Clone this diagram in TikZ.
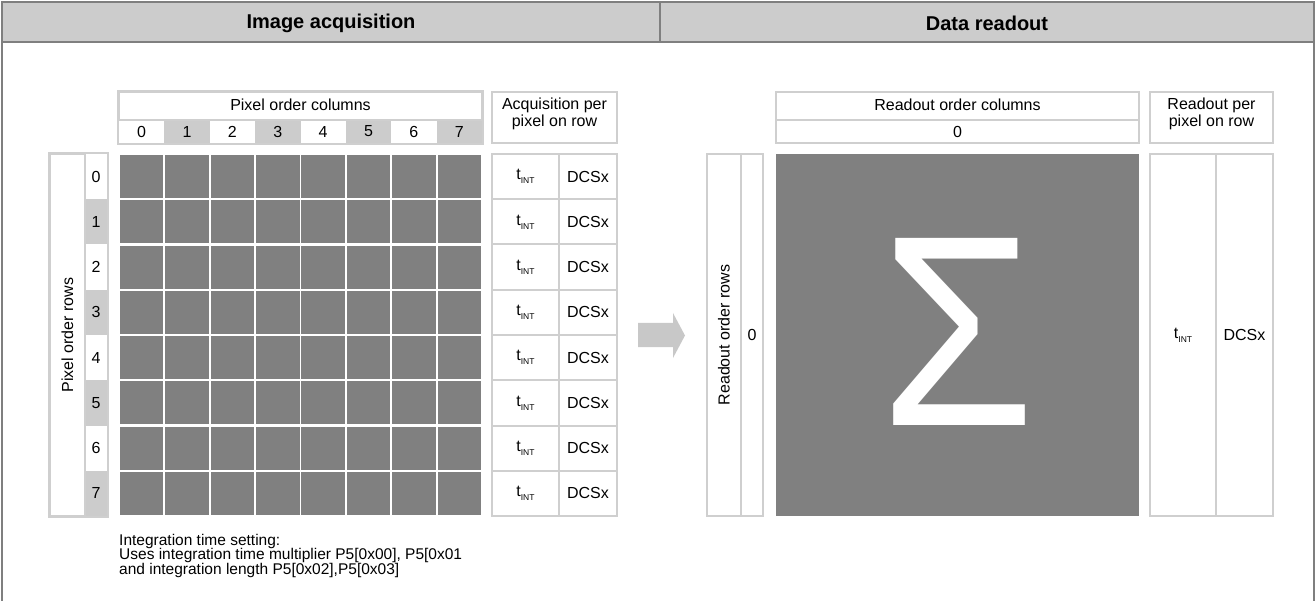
\documentclass[tikz,border=0pt]{standalone}
\usepackage{fontspec}
\setmainfont{Liberation Sans}
\usetikzlibrary{positioning}
\definecolor{framegray}{HTML}{7F7F7F}
\definecolor{headgray}{HTML}{CCCCCC}
\definecolor{linegray}{HTML}{CFCFCF}
\definecolor{cellgray}{HTML}{808080}
\definecolor{arrowgray}{HTML}{C8C8C8}
\newcommand{\tInt}{t\raisebox{-4pt}{\fontsize{8.5}{9}\selectfont INT}}
\begin{document}
\begin{tikzpicture}[
		x=1pt, y=-1pt,
		box/.style={
			draw=linegray,
			line width=2pt,
			fill=white,
			inner sep=0pt
		},
		numcell/.style={
			minimum width=45.375pt,
			minimum height=23pt,
			inner sep=0pt,
			font=\fontsize{16}{17}\selectfont
		},
		rowcell/.style={
			minimum width=22pt,
			minimum height=45.25pt,
			inner sep=0pt,
			font=\fontsize{16}{17}\selectfont
		},
		pixcell/.style={
			fill=cellgray,
			minimum width=43.4pt,
			minimum height=43.2pt,
			inner sep=0pt
		},
		txt/.style={
			inner sep=0pt,
			align=center,
			font=\fontsize{16}{17}\selectfont
		},
		title/.style={
			inner sep=0pt,
			font=\fontsize{20}{22}\selectfont\bfseries
		}
		]
		\useasboundingbox (0,0) rectangle (1316,601);
		
		% Frame and header bar
		\draw[framegray, line width=1.5pt] (2,601) -- (2,2) -- (1314,2) -- (1314,601);
		\filldraw[fill=headgray, draw=framegray, line width=1.5pt] (2,2) rectangle (1314,42);
		\draw[framegray, line width=1.5pt] (660,2) -- (660,42);
		\node[title] (acqtitle) at (331,23.5) {Image acquisition};
		\node[title] (readtitle) at (987,23.5) {Data readout};
		
		% Pixel order columns
		\node[box, minimum width=363pt, minimum height=51pt] (colhead) at (300.5,117.5) {};
		\foreach \i in {0,...,7} {
			\pgfmathparse{mod(\i,2)==1 ? "headgray" : "white"}
			\let\cfill\pgfmathresult
			\node[numcell, fill=\cfill] (col\i) at (119+45.375*\i+22.6875,131.5) {\i};
		}
		\draw[linegray, line width=2pt] (colhead.north west) rectangle (colhead.south east);
		\draw[linegray, line width=2pt] (119,120) -- (482,120);
		\node[txt] (colname) at (300.5,105) {Pixel order columns};
		
		% Acquisition per pixel
		\node[box, minimum width=125pt, minimum height=51pt] (acqhead) at (554.5,117.5) {};
		\node[txt, font=\fontsize{16}{16.5}\selectfont] (acqname) at (554.5,114) {Acquisition per\\pixel on row};
		
		% Pixel order rows
		\node[box, minimum width=57pt, minimum height=362pt] (rowhead) at (78.5,335) {};
		\foreach \i in {0,...,7} {
			\pgfmathparse{mod(\i,2)==1 ? "headgray" : "white"}
			\let\cfill\pgfmathresult
			\node[rowcell, fill=\cfill] (row\i) at (96,154+45.25*\i+22.625) {\i};
		}
		\draw[linegray, line width=2pt] (rowhead.north west) rectangle (rowhead.south east);
		\draw[linegray, line width=2pt] (85,154) -- (85,516);
		\node[txt, rotate=90] (rowname) at (67.5,335) {Pixel order rows};
		
		% Pixel grid
		\foreach \r in {0,...,7} {
			\foreach \c in {0,...,7} {
				\node[pixcell] (px\r\c) at (119+45.375*\c+22.6875,154+45.25*\r+22.625) {};
			}
		}
		
		% Acquisition table
		\foreach \i in {0,...,7} {
			\node[box, minimum width=67pt, minimum height=45.25pt] (tint\i) at (525.5,154+45.25*\i+22.625) {};
			\node[box, minimum width=58pt, minimum height=45.25pt] (dcs\i) at (588,154+45.25*\i+22.625) {};
			\node[txt] (tintlbl\i) at (tint\i) {\tInt};
			\node[txt] (dcslbl\i) at (dcs\i) {DCSx};
		}
		
		% Note on integration time
		\node[txt, align=left, anchor=north west, font=\fontsize{15.5}{14.5}\selectfont] (note) at (119,534)
		{Integration time setting:\\Uses integration time multiplier P5[0x00], P5[0x01\\and integration length P5[0x02],P5[0x03]};
		
		% Block arrow
		\fill[arrowgray] (638,323) -- (673,323) -- (673,313) -- (685,335.5) -- (673,358) -- (673,347) -- (638,347) -- cycle;
		
		% Readout order columns
		\node[box, minimum width=363pt, minimum height=51pt] (rcolhead) at (957.5,117.5) {};
		\draw[linegray, line width=2pt] (776,120) -- (1139,120);
		\node[txt] (rcolname) at (957.5,105) {Readout order columns};
		\node[txt] (rcol0) at (957.5,131.5) {0};
		
		% Readout per pixel
		\node[box, minimum width=123pt, minimum height=51pt] (readhead) at (1211.5,117.5) {};
		\node[txt, font=\fontsize{16}{16.5}\selectfont] (readname) at (1211.5,114) {Readout per\\pixel on row};
		
		% Readout order rows
		\node[box, minimum width=56pt, minimum height=362pt] (rrowhead) at (735,335) {};
		\draw[linegray, line width=2pt] (741,154) -- (741,516);
		\node[txt, rotate=90] (rrowname) at (724,335) {Readout order rows};
		\node[txt] (rrow0) at (752,335) {0};
		
		% Summed pixel
		\node[fill=cellgray, minimum width=363pt, minimum height=362pt, inner sep=0pt] (sum) at (957.5,335) {};
		\node[inner sep=0pt, text=white, xscale=0.92, font=\fontsize{272}{272}\selectfont] (sigma) at (957.5,332) {Σ};
		
		% Readout table
		\node[box, minimum width=66pt, minimum height=362pt] (rtint) at (1183,335) {};
		\node[box, minimum width=57pt, minimum height=362pt] (rdcs) at (1244.5,335) {};
		\node[txt] (rtintlbl) at (rtint) {\tInt};
		\node[txt] (rdcslbl) at (rdcs) {DCSx};
		
	\end{tikzpicture}
\end{document}
